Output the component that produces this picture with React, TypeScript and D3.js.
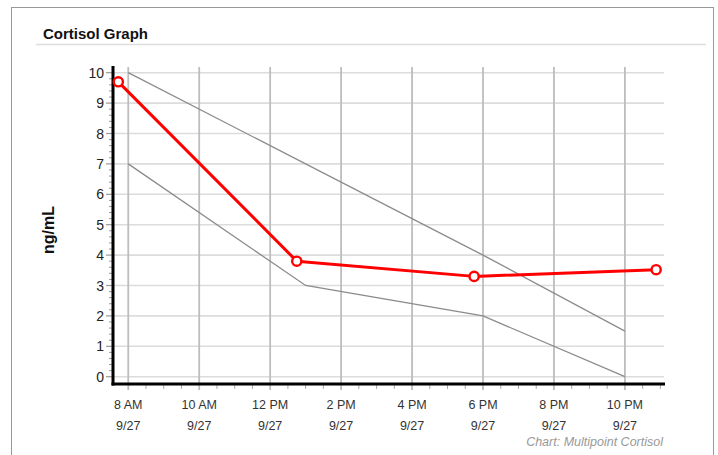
import React from "react";
import * as d3 from "d3";

const tickHours = [8, 10, 12, 14, 16, 18, 20, 22];
const tickTimeLabels = ["8 AM", "10 AM", "12 PM", "2 PM", "4 PM", "6 PM", "8 PM", "10 PM"];
const tickDateLabels = ["9/27", "9/27", "9/27", "9/27", "9/27", "9/27", "9/27", "9/27"];
const yTicks = [0, 1, 2, 3, 4, 5, 6, 7, 8, 9, 10];

const measuredHours = [7.72, 12.75, 17.75, 22.88];
const measuredValues = [9.7, 3.8, 3.3, 3.52];

const upperRefHours = [8, 13, 18, 22];
const upperRefValues = [10, 7, 4, 1.5];
const lowerRefHours = [8, 13, 18, 22];
const lowerRefValues = [7, 3, 2, 0];

export default function App() {
  const W = 718, H = 455;
  const x = d3.scaleLinear().domain([7.57, 23.13]).range([113, 665]);
  const y = d3.scaleLinear().domain([0, 10]).range([376.7, 72.7]);
  const line = d3.line<[number, number]>().x((d) => x(d[0])).y((d) => y(d[1]));
  const measured = measuredHours.map((h, i) => [h, measuredValues[i]] as [number, number]);
  const upper = upperRefHours.map((h, i) => [h, upperRefValues[i]] as [number, number]);
  const lower = lowerRefHours.map((h, i) => [h, lowerRefValues[i]] as [number, number]);
  const minorX = d3.range(16, 47).map((k) => k / 2).filter((h) => h % 2 !== 0);
  const minorY = d3.range(0, 51).map((k) => k / 5).filter((v) => Math.abs(v - Math.round(v)) > 1e-6);
  const font = "Arial, 'Liberation Sans', Helvetica, sans-serif";
  const axisY = 384;
  const axisX = 113;

  return (
    <svg width={W} height={H} style={{ position: "absolute", left: 0, top: 0, background: "#fff" }} fontFamily={font}>
      <rect x={11.5} y={7.5} width={702} height={460} fill="#fff" stroke="#999" strokeWidth={1} />
      <text x={43} y={39.3} fontSize={15} fontWeight="bold" fill="#111">Cortisol Graph</text>
      <line x1={36} x2={706} y1={44.5} y2={44.5} stroke="#ddd" strokeWidth={1.5} />

      {/* horizontal grid */}
      {yTicks.map((v) => (
        <line key={"hg" + v} x1={axisX} x2={664} y1={y(v)} y2={y(v)} stroke="#dcdcdc" strokeWidth={1.6} />
      ))}
      {/* vertical grid */}
      {tickHours.map((h) => (
        <line key={"vg" + h} x1={x(h)} x2={x(h)} y1={67} y2={390} stroke="#bdbdbd" strokeWidth={1.8} />
      ))}
      {/* minor x ticks */}
      {minorX.map((h) => (
        <line key={"mx" + h} x1={x(h)} x2={x(h)} y1={axisY} y2={389} stroke="#aaa" strokeWidth={1} />
      ))}
      {/* y ticks */}
      {yTicks.map((v) => (
        <line key={"yt" + v} x1={106} x2={axisX} y1={y(v)} y2={y(v)} stroke="#999" strokeWidth={1.2} />
      ))}
      {minorY.map((v) => (
        <line key={"my" + v} x1={109} x2={axisX} y1={y(v)} y2={y(v)} stroke="#999" strokeWidth={1} />
      ))}

      {/* reference lines */}
      <path d={line(upper) || ""} fill="none" stroke="#8c8c8c" strokeWidth={1.3} />
      <path d={line(lower) || ""} fill="none" stroke="#8c8c8c" strokeWidth={1.3} />

      {/* axes */}
      <line x1={axisX} x2={axisX} y1={66} y2={axisY + 1.5} stroke="#000" strokeWidth={3} />
      <line x1={axisX - 1.5} x2={665} y1={axisY} y2={axisY} stroke="#000" strokeWidth={3} />

      {/* measured series */}
      <path d={line(measured) || ""} fill="none" stroke="#ff0000" strokeWidth={3} strokeLinejoin="round" />
      {measured.map((d, i) => (
        <circle key={"pt" + i} cx={x(d[0])} cy={y(d[1])} r={4.6} fill="#fff" stroke="#ff0000" strokeWidth={2.4} />
      ))}

      {/* y tick labels */}
      {yTicks.map((v) => (
        <text key={"yl" + v} x={104} y={y(v)} dy="0.36em" textAnchor="end" fontSize={14} fill="#222">{v}</text>
      ))}
      {/* x tick labels */}
      {tickHours.map((h, i) => (
        <g key={"xl" + h}>
          <text x={x(h)} y={409} textAnchor="middle" fontSize={12.5} fill="#333">{tickTimeLabels[i]}</text>
          <text x={x(h)} y={430} textAnchor="middle" fontSize={12.5} fill="#333">{tickDateLabels[i]}</text>
        </g>
      ))}

      <text transform={`translate(54,230) rotate(-90)`} textAnchor="middle" fontSize={16} fontWeight="bold" fill="#111">ng/mL</text>
      <text x={663} y={446} textAnchor="end" fontSize={12.5} fontStyle="italic" fill="#999">Chart: Multipoint Cortisol</text>
    </svg>
  );
}
